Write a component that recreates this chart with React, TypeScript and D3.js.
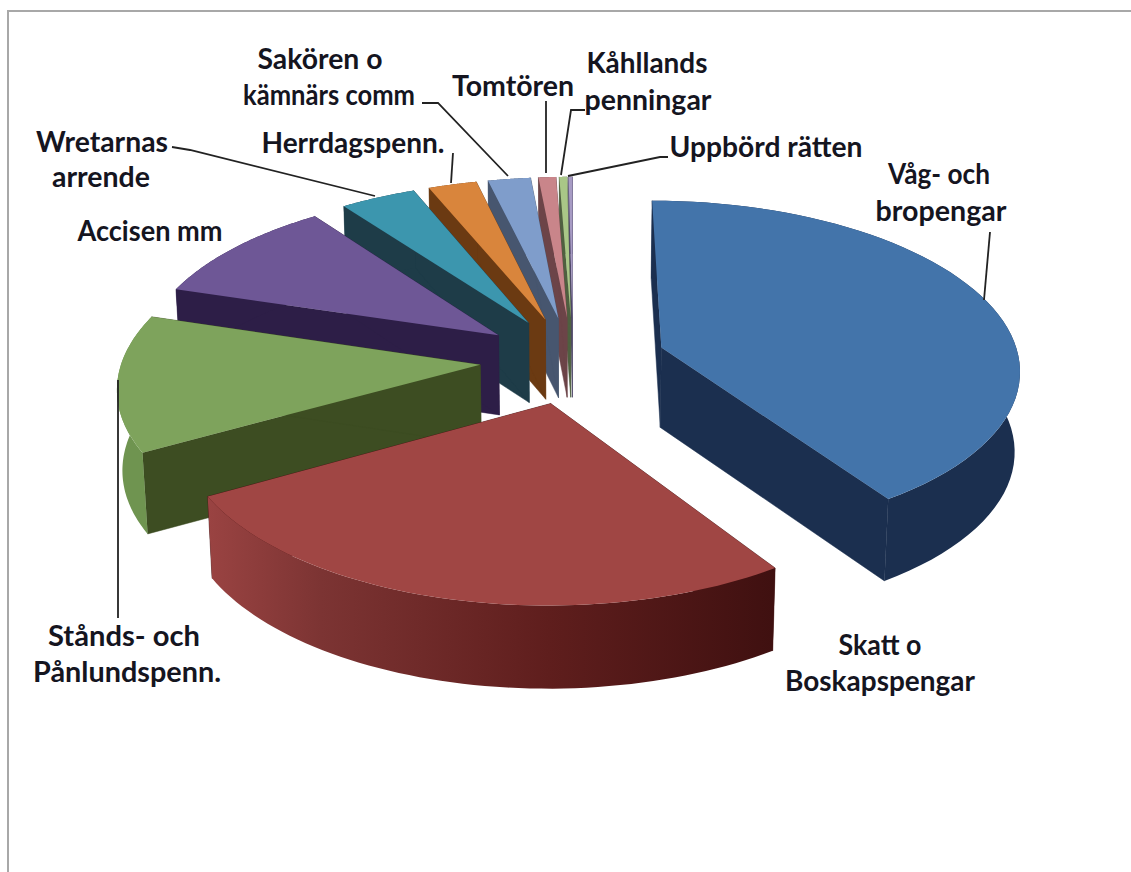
import React from "react";
import * as d3 from "d3";

const categories = ["Våg- och bropengar","Skatt o Boskapspengar","Stånds- och Pånlundspenn.","Accisen mm","Wretarnas arrende","Herrdagspenn.","Sakören o kämnärs comm","Tomtören","Kåhllands penningar","Uppbörd rätten"];
const values = [40.8,26.2,13.0,10.2,3.9,2.5,2.2,0.9,0.4,0.2];
const topColors = ["#4374aa","#a04644","#7ea35c","#6e5796","#3c96ae","#d9853c","#7f9dcb","#c9858a","#a9c787","#a79bc4"];
const wallColors = ["#1b2f4f","#3f1010","#3d4d22","#2d1e47","#1e3c48","#6b3a12","#47566f","#6c4448","#4f6040","#50486a"];
const rimColors = ["#1b2f4f","url(#redWall)","#6f9450","#2d1e47","#1e3c48","#6b3a12","#47566f","#6c4448","#4f6040","#50486a"];

const labelLines = [["Våg- och","bropengar"],["Skatt o","Boskapspengar"],["Stånds- och","Pånlundspenn."],["Accisen mm"],["Wretarnas","arrende"],["Herrdagspenn."],["Sakören o","kämnärs comm"],["Tomtören"],["Kåhllands","penningar"],["Uppbörd rätten"]];
const labelPos: [number, number][][] = [
  [[939,173],[941,210]],[[880,644],[880,680]],[[124,635],[127,671]],[[150,230]],[[102,141],[101,176]],
  [[353,142]],[[320,58],[329,94]],[[513,85]],[[647,62],[648,99]],[[766,146]],
];
const labelWidths = [[102,131],[83,190],[152,188],[145],[132,98],[183],[125,172],[122],[121,127],[193]];
const leaders: [number, number][][] = [
  [[984,300],[990,232]],[],[[118,380],[118,618]],[],[[375,196],[190,150],[172,147]],
  [[451,183],[453,153]],[[508,176],[438,103],[422,103]],[[546,173],[546,101]],[[561,175],[571,110],[585,110]],[[568,176],[660,157],[668,157]],
];

const cx = 573, cy = 360, Rx = 358, Ry = 167, k = 0.118, depth = 80, depthK = 0.03, explode = 0.26, bottomShrink = 0.988;

function project(x: number, y: number, low: boolean): [number, number] {
  const w = 1 + k * y;
  const sx = (Rx * x) / w;
  const sy = (-Ry * y) / w;
  return [cx + sx * (low ? bottomShrink : 1), cy + sy + (low ? depth / (1 + depthK * y) : 0)];
}

const line = d3.line();

export default function App() {
  const arcs = d3.pie<number>().sort(null).value((d) => d).startAngle(0).endAngle(2 * Math.PI)(values);
  const slices = arcs.map((a, i) => {
    const mid = (a.startAngle + a.endAngle) / 2;
    const ox = explode * Math.sin(mid), oy = explode * Math.cos(mid);
    const angles = d3.range(0, 61).map((j) => a.startAngle + ((a.endAngle - a.startAngle) * j) / 60);
    const rim = (low: boolean) => angles.map((t) => project(ox + Math.sin(t), oy + Math.cos(t), low));
    const apexTop = project(ox, oy, false), apexLow = project(ox, oy, true);
    const topRim = rim(false), lowRim = rim(true);
    return {
      i, mid,
      top: line([apexTop, ...topRim])! + "Z",
      wallA: line([apexTop, topRim[0], lowRim[0], apexLow])! + "Z",
      wallB: line([apexTop, topRim[60], lowRim[60], apexLow])! + "Z",
      outer: line([...topRim, ...[...lowRim].reverse()])! + "Z",
    };
  });
  const order = [...slices].sort((p, q) => Math.cos(q.mid) - Math.cos(p.mid));
  return (
    <svg width={1131} height={872} style={{ position: "absolute", left: 0, top: 0, background: "#fff" }}>
      <defs>
        <linearGradient id="redWall" x1="0" x2="1" y1="0" y2="0">
          <stop offset="0" stopColor="#9a4342" />
          <stop offset="0.2" stopColor="#7c3433" />
          <stop offset="0.6" stopColor="#5f1e1d" />
          <stop offset="1" stopColor="#3f1010" />
        </linearGradient>
      </defs>
      <path d="M8 872V11H1131" fill="none" stroke="#a8a8a8" strokeWidth={2} />
      {order.map((s) => (
        <g key={categories[s.i]}>
          <path d={s.wallA} fill={wallColors[s.i]} stroke={wallColors[s.i]} strokeWidth={0.5} />
          <path d={s.wallB} fill={wallColors[s.i]} stroke={wallColors[s.i]} strokeWidth={0.5} />
          <path d={s.outer} fill={rimColors[s.i]} />
          <path d={s.top} fill={topColors[s.i]} />
        </g>
      ))}
      {leaders.map((pts, i) => pts.length > 0 && (
        <path key={i} d={line(pts)!} fill="none" stroke="#222" strokeWidth={1.8} />
      ))}
      {labelLines.map((lines, i) => lines.map((t, j) => (
        <text key={t} x={labelPos[i][j][0]} y={labelPos[i][j][1]} textAnchor="middle" dominantBaseline="central"
          textLength={labelWidths[i][j]} lengthAdjust="spacingAndGlyphs"
          fontFamily="Lato" fontWeight={700} fontSize={28} fill="#15151f">{t}</text>
      )))}
    </svg>
  );
}
